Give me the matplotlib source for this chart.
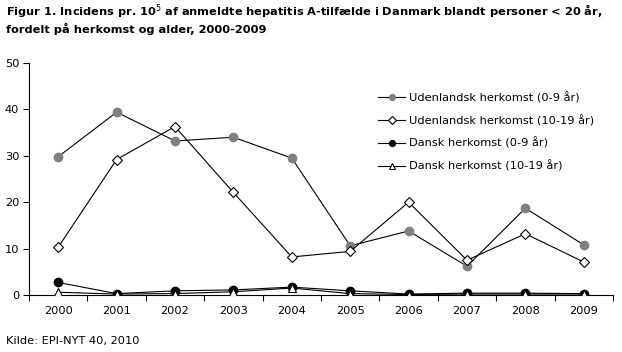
import numpy as np
import matplotlib
matplotlib.use("Agg")
import matplotlib.pyplot as plt

years = ["2000", "2001", "2002", "2003", "2004", "2005", "2006", "2007", "2008", "2009"]
udl_0_9 = [29.8, 39.4, 33.2, 34.0, 29.5, 10.6, 13.8, 6.2, 18.7, 10.8]
udl_10_19 = [10.3, 29.2, 36.3, 22.1, 8.2, 9.4, 20.0, 7.5, 13.2, 7.1]
dk_0_9 = [2.7, 0.3, 0.9, 1.1, 1.7, 0.9, 0.2, 0.4, 0.4, 0.3]
dk_10_19 = [0.6, 0.2, 0.3, 0.7, 1.5, 0.3, 0.1, 0.2, 0.2, 0.2]

plt.rcParams['font.family'] = ['DejaVu Sans']
fs = 8.2

fig = plt.figure(figsize=(6.22, 3.52), dpi=100)
ax = fig.add_axes([29/622, 1 - 295/352, (613 - 29)/622, (295 - 63)/352])

x = np.arange(len(years))
lw = 0.8
ax.plot(x, udl_0_9, color='black', lw=lw, marker='o', ms=6, mfc='#808080', mec='#808080',
        label='Udenlandsk herkomst (0-9 år)', zorder=3)
ax.plot(x, udl_10_19, color='black', lw=lw, marker='D', ms=5.2, mfc='white', mec='black', mew=0.8,
        label='Udenlandsk herkomst (10-19 år)', zorder=4)
ax.plot(x, dk_0_9, color='black', lw=lw, marker='o', ms=6, mfc='black', mec='black',
        label='Dansk herkomst (0-9 år)', zorder=5)
ax.plot(x, dk_10_19, color='black', lw=lw, marker='^', ms=6, mfc='white', mec='black', mew=0.8,
        label='Dansk herkomst (10-19 år)', zorder=6)

ax.set_xlim(-0.5, len(years) - 0.5)
ax.set_ylim(0, 50)
ax.set_yticks(range(0, 51, 10))
ax.set_xticks(x)
ax.set_xticklabels(years, fontsize=fs)
ax.tick_params(axis='x', length=0, pad=8)
ax.set_xticks(np.arange(-0.5, len(years), 1), minor=True)
ax.tick_params(axis='x', which='minor', length=4, direction='out', width=0.8)
ax.tick_params(axis='y', length=4, direction='out', width=0.8, pad=3, labelsize=fs)
for s in ['top', 'right']:
    ax.spines[s].set_visible(False)
for s in ['left', 'bottom']:
    ax.spines[s].set_linewidth(0.8)
ax.patch.set_alpha(0)

leg = ax.legend(loc='upper left', bbox_to_anchor=(0.58, 0.92), frameon=False,
                handlelength=2.4, handletextpad=0.3, labelspacing=1.0, markerscale=0.7,
                fontsize=fs)

fig.text(6/622, 1 - 3/352,
         "Figur 1. Incidens pr. 10$^5$ af anmeldte hepatitis A-tilfælde i Danmark blandt personer < 20 år,\n"
         "fordelt på herkomst og alder, 2000-2009",
         fontsize=fs, fontweight='bold', va='top', ha='left', linespacing=1.25)
fig.text(6/622, 1 - 346/352, "Kilde: EPI-NYT 40, 2010", fontsize=fs, va='bottom', ha='left')

fig.savefig("out.png", dpi=100)
